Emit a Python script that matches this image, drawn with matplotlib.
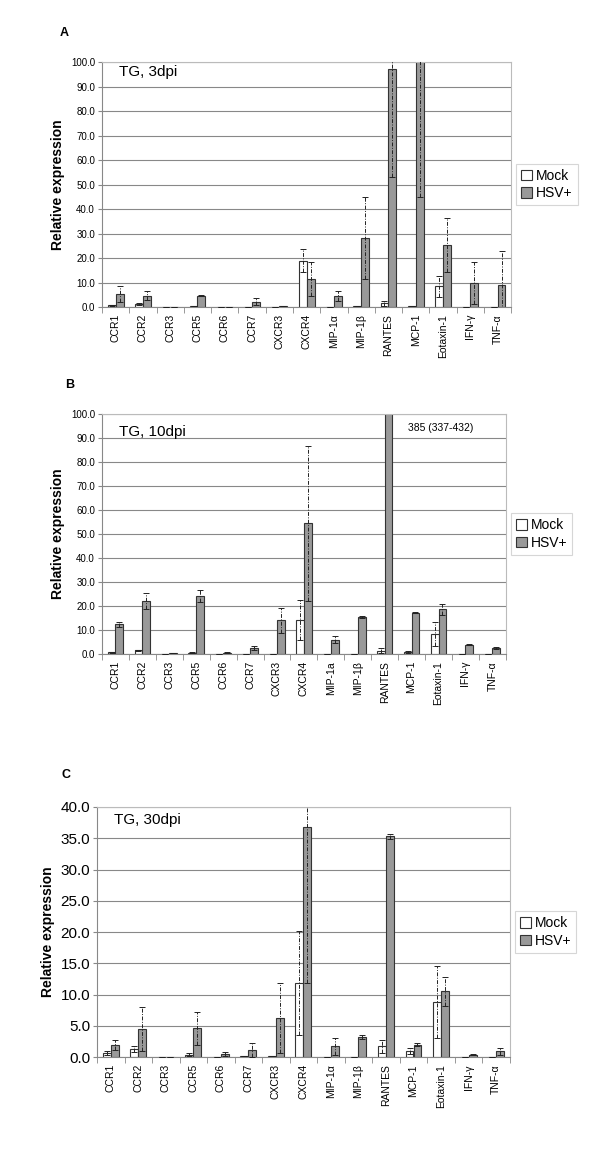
import numpy as np
import matplotlib.pyplot as plt

plt.rcParams['font.family'] = ['Liberation Sans', 'DejaVu Sans']

genes = ['CCR1', 'CCR2', 'CCR3', 'CCR5', 'CCR6', 'CCR7', 'CXCR3', 'CXCR4',
         'MIP-1α', 'MIP-1β', 'RANTES', 'MCP-1', 'Eotaxin-1', 'IFN-γ', 'TNF-α']
genes_b = ['CCR1', 'CCR2', 'CCR3', 'CCR5', 'CCR6', 'CCR7', 'CXCR3', 'CXCR4',
           'MIP-1a', 'MIP-1β', 'RANTES', 'MCP-1', 'Eotaxin-1', 'IFN-γ', 'TNF-α']

# A: TG, 3dpi
mock_a = [0.7, 1.2, 0.2, 0.4, 0.1, 0.1, 0.2, 18.9, 0.2, 0.5, 1.6, 0.5, 8.4, 0.0, 0.2]
mock_err_a = [0.1, 0.3, 0.0, 0.1, 0.0, 0.0, 0.0, 4.7, 0.0, 0.1, 1.0, 0.1, 4.3, 0.0, 0.0]
hsv_a = [5.4, 4.6, 0.2, 4.5, 0.1, 2.2, 0.3, 11.4, 4.6, 28.2, 97.3, 155.0, 25.2, 9.8, 9.1]
hsv_err_a = [3.3, 1.8, 0.0, 0.2, 0.0, 1.5, 0.0, 7.0, 2.0, 16.8, 44.4, 110.0, 11.0, 8.7, 13.9]

# B: TG, 10dpi
mock_b = [0.8, 1.5, 0.1, 0.6, 0.1, 0.1, 0.1, 14.1, 0.0, 0.0, 1.4, 0.8, 8.5, 0.0, 0.1]
mock_err_b = [0.2, 0.3, 0.0, 0.1, 0.0, 0.0, 0.0, 8.2, 0.0, 0.0, 1.1, 0.3, 5.0, 0.0, 0.0]
hsv_b = [12.3, 22.0, 0.2, 24.0, 0.5, 2.6, 14.0, 54.4, 6.0, 15.5, 385.0, 17.2, 18.6, 3.9, 2.5]
hsv_err_b = [0.9, 3.4, 0.0, 2.5, 0.2, 0.9, 5.3, 32.3, 1.5, 0.4, 47.5, 0.3, 2.4, 0.2, 0.4]

# C: TG, 30dpi
mock_c = [0.7, 1.3, 0.05, 0.4, 0.05, 0.1, 0.1, 11.8, 0.05, 0.05, 1.7, 1.0, 8.8, 0.0, 0.05]
mock_err_c = [0.3, 0.5, 0.0, 0.2, 0.0, 0.0, 0.0, 8.3, 0.0, 0.0, 1.1, 0.5, 5.7, 0.0, 0.0]
hsv_c = [1.9, 4.5, 0.05, 4.6, 0.5, 1.1, 6.2, 36.8, 1.7, 3.2, 35.3, 2.0, 10.5, 0.4, 0.9]
hsv_err_c = [0.85, 3.5, 0.0, 2.6, 0.3, 1.1, 5.6, 25.0, 1.3, 0.3, 0.4, 0.3, 2.3, 0.1, 0.5]


def panel(ax, labels, mock, mock_err, hsv, hsv_err, ymax, step, tag, tag_y, yfs):
    x = np.arange(len(labels))
    w = 0.29
    ax.bar(x - w / 2, mock, w, color='white', edgecolor='#333333', linewidth=0.8, zorder=2)
    ax.bar(x + w / 2, hsv, w, color='#999999', edgecolor='#333333', linewidth=0.8, zorder=2)
    for xs, v, e in ((x - w / 2, mock, mock_err), (x + w / 2, hsv, hsv_err)):
        eb = ax.errorbar(xs, v, yerr=e, fmt='none', ecolor='#222222', elinewidth=0.7,
                         capsize=2.5, capthick=0.7, zorder=3)
        eb[2][0].set_linestyle((0, (4, 1.5, 1, 1.5)))
    ax.set_xlim(-0.5, len(labels) - 0.5)
    ax.set_ylim(0, ymax)
    ax.set_yticks(np.arange(0, ymax + step / 2, step))
    ax.set_yticklabels(['%.1f' % t for t in np.arange(0, ymax + step / 2, step)], fontsize=yfs)
    ax.yaxis.grid(True, color='#888888', linewidth=0.8)
    ax.set_axisbelow(True)
    ax.set_xticks(x)
    ax.set_xticklabels(labels, rotation=90, fontsize=7.5)
    ax.set_xticks(np.arange(-0.5, len(labels)), minor=True)
    ax.tick_params(axis='x', which='major', length=0, pad=5)
    ax.tick_params(axis='x', which='minor', length=4, color='#888888')
    ax.tick_params(axis='y', length=3, color='#888888', pad=2)
    for s in ['top', 'right']:
        ax.spines[s].set_color('#bbbbbb')
    for s in ['left', 'bottom']:
        ax.spines[s].set_color('#888888')
    ax.set_ylabel('Relative expression', fontsize=10, fontweight='bold')
    ax.text(0.042, tag_y, tag, transform=ax.transAxes, fontsize=11, va='center')
    leg = ax.legend(['Mock', 'HSV+'], loc='center left', bbox_to_anchor=(1.012, 0.5),
                    fontsize=10, handlelength=0.8, handleheight=0.8, handletextpad=0.3,
                    borderpad=0.35, labelspacing=0.25, fancybox=False, borderaxespad=0)
    leg.get_frame().set_edgecolor('#cccccc')
    leg.get_frame().set_linewidth(0.8)


fig = plt.figure(figsize=(6, 11.55), dpi=100)
ax_a = fig.add_axes([0.170, 0.7342, 0.682, 0.2121])
ax_b = fig.add_axes([0.170, 0.4338, 0.673, 0.2078])
ax_c = fig.add_axes([0.1617, 0.0848, 0.688, 0.2165])

panel(ax_a, genes, mock_a, mock_err_a, hsv_a, hsv_err_a, 100, 10, 'TG, 3dpi', 0.959, 7)
panel(ax_b, genes_b, mock_b, mock_err_b, hsv_b, hsv_err_b, 100, 10, 'TG, 10dpi', 0.925, 7)
panel(ax_c, genes, mock_c, mock_err_c, hsv_c, hsv_err_c, 40, 5, 'TG, 30dpi', 0.948, 11)
ax_c.yaxis.label.set_size(10)

ax_b.text(10.85, 94, '385 (337-432)', fontsize=7.5, va='center')

fig.text(0.1, 1 - 33 / 1155, 'A', fontsize=9, fontweight='bold', va='center')
fig.text(0.108, 1 - 385 / 1155, 'B', fontsize=9, fontweight='bold', va='center')
fig.text(0.103, 1 - 775 / 1155, 'C', fontsize=9, fontweight='bold', va='center')

plt.savefig('out.png', dpi=100)
